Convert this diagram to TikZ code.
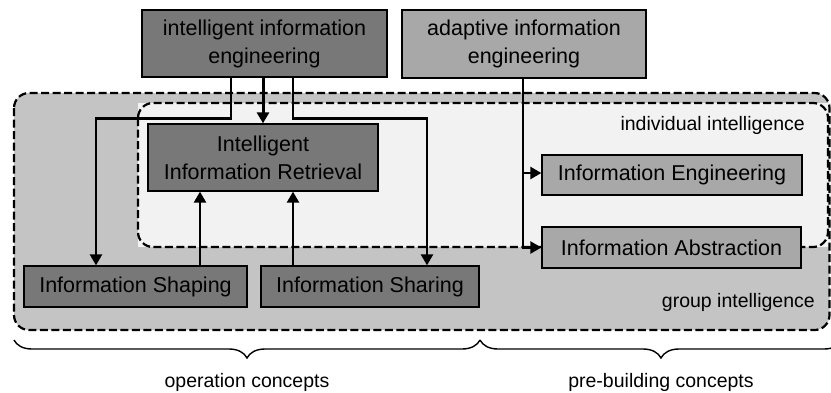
\documentclass[tikz,border=0pt]{standalone}
\usepackage{fontspec}
\setmainfont{Liberation Sans}
\usetikzlibrary{arrows.meta,decorations.pathreplacing}
\definecolor{darkbox}{HTML}{787878}
\definecolor{midbox}{HTML}{A8A8A8}
\definecolor{outerfill}{HTML}{C4C4C4}
\definecolor{innerfill}{HTML}{F2F2F2}
\begin{document}
\begin{tikzpicture}[x=1pt,y=-1pt,
  box/.style={draw=black,line width=1.3pt,inner sep=0pt,align=center,
    font=\fontsize{21.5}{28}\selectfont},
  darkb/.style={box,fill=darkbox},
  midb/.style={box,fill=midbox},
  region/.style={dash pattern=on 8pt off 3.5pt,line width=2.2pt,rounded corners=15pt},
  arr/.style={line width=2.4pt,-{Triangle[length=11pt,width=12pt]}},
  lbl/.style={font=\fontsize{19.5}{24}\selectfont,inner sep=0pt},
  bracedeco/.style={decorate,decoration={brace,mirror,amplitude=18pt},line width=1.4pt}
]
\useasboundingbox[fill=white] (0,0) rectangle (831,392);
% regions
\fill[outerfill,rounded corners=15pt] (14,93) rectangle (829.5,330);
\fill[innerfill] (138,103) rectangle (831,247);
\draw[region] (14,93) rectangle (829.5,330);
\draw[region] (138,103) rectangle (828,247);
% nodes
\node[darkb,minimum width=245pt,minimum height=67pt] (iie) at (264.5,43.5) {intelligent information\\engineering};
\node[midb,minimum width=244pt,minimum height=68pt] (aie) at (524,44) {adaptive information\\engineering};
\node[darkb,minimum width=230pt,minimum height=67pt] (iir) at (263,157.5) {Intelligent\\Information Retrieval};
\node[darkb,minimum width=223pt,minimum height=41pt] (ishape) at (135.5,286.5) {Information Shaping};
\node[darkb,minimum width=218pt,minimum height=41pt] (ishare) at (370,286.5) {Information Sharing};
\node[midb,minimum width=260pt,minimum height=40pt] (ieng) at (672,175) {Information Engineering};
\node[midb,minimum width=259pt,minimum height=41pt] (iabs) at (671.5,247.5) {Information Abstraction};
\node[lbl,anchor=east] (indiv) at (805,125) {individual intelligence};
\node[lbl,anchor=east] (group) at (815,302) {group intelligence};
% connectors
\draw[arr,line width=3pt] (iir.north |- iie.south) -- (iir.north);
\draw[arr] ([xshift=-33.5pt]iie.south) -- ++(0,41) -| ([xshift=-39.5pt]ishape.north);
\draw[arr] ([xshift=28.5pt]iie.south) -- ++(0,41) -| ([xshift=57pt]ishare.north);
\draw[arr] ([xshift=64.5pt]ishape.north) -- ([xshift=64.5pt]ishape.north |- iir.south);
\draw[arr] ([xshift=-77pt]ishare.north) -- ([xshift=-77pt]ishare.north |- iir.south);
\draw[arr] ([xshift=-1pt]aie.south) |- ([yshift=2pt]ieng.west);
\draw[arr] ([xshift=-1pt]aie.south) |- (iabs.west);
% braces
\coordinate (b1) at (14,340);
\coordinate (b2) at (480,340);
\coordinate (b3) at (842,340);
\draw[bracedeco] (b1) -- (b2);
\draw[bracedeco] (b2) -- (b3);
\node[lbl] (opc) at (247,382) {operation concepts};
\node[lbl] (prc) at (661,382) {pre-building concepts};
\end{tikzpicture}
\end{document}
